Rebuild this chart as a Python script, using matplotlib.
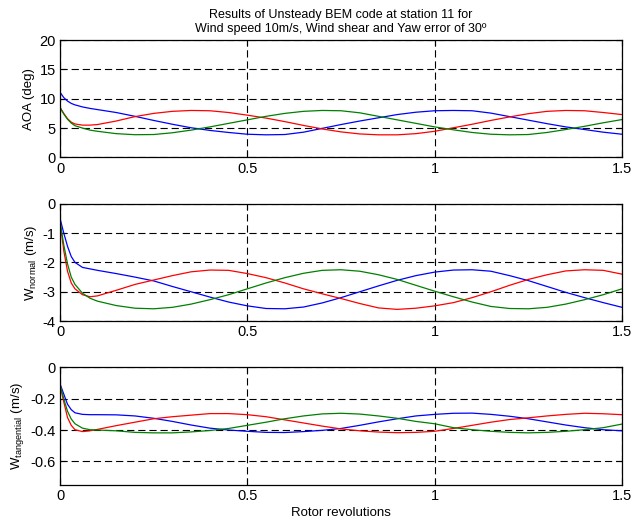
import numpy as np
import matplotlib.pyplot as plt

plt.rcParams['font.family'] = ['Liberation Sans', 'DejaVu Sans']
plt.rcParams['mathtext.default'] = 'regular'

# rotor revolutions
rev = [0, 0.01, 0.02, 0.03, 0.04, 0.06, 0.08, 0.10, 0.15, 0.20, 0.25, 0.30, 0.35,
       0.40, 0.45, 0.50, 0.55, 0.60, 0.65, 0.70, 0.75, 0.80, 0.85, 0.90, 0.95,
       1.00, 1.05, 1.10, 1.15, 1.20, 1.25, 1.30, 1.35, 1.40, 1.45, 1.50]

# angle of attack (deg), one list per blade
aoa_blue = [11.1, 10.2, 9.6, 9.2, 8.95, 8.6, 8.35, 8.15, 7.65, 7.0, 6.3, 5.65, 5.05,
            4.6, 4.25, 3.95, 3.85, 3.9, 4.3, 4.95, 5.6, 6.2, 6.75, 7.3, 7.7,
            7.95, 8.0, 7.95, 7.55, 6.95, 6.35, 5.75, 5.2, 4.75, 4.3, 3.95]
aoa_red = [8.5, 7.5, 6.6, 6.0, 5.7, 5.5, 5.5, 5.6, 6.2, 6.95, 7.5, 7.85, 8.0,
           7.95, 7.65, 7.2, 6.7, 6.1, 5.45, 4.85, 4.35, 4.0, 3.85, 3.85, 4.05,
           4.45, 5.05, 5.65, 6.3, 6.9, 7.45, 7.85, 8.0, 7.95, 7.65, 7.3]
aoa_green = [8.5, 7.4, 6.5, 5.85, 5.4, 5.0, 4.65, 4.45, 4.05, 3.87, 3.9, 4.2, 4.65,
             5.2, 5.8, 6.4, 7.0, 7.5, 7.85, 8.0, 7.95, 7.6, 7.0, 6.4, 5.8,
             5.2, 4.7, 4.25, 3.95, 3.85, 3.9, 4.25, 4.75, 5.3, 5.9, 6.45]

# normal induced velocity (m/s)
wn_blue = [-0.5, -1.0, -1.45, -1.8, -2.0, -2.17, -2.22, -2.27, -2.38, -2.5, -2.63, -2.82, -3.0,
           -3.18, -3.35, -3.48, -3.57, -3.58, -3.52, -3.38, -3.2, -3.0, -2.8, -2.61, -2.45,
           -2.33, -2.26, -2.25, -2.3, -2.45, -2.62, -2.82, -3.02, -3.2, -3.37, -3.53]
wn_red = [-0.6, -1.6, -2.3, -2.7, -2.9, -3.1, -3.17, -3.14, -2.95, -2.75, -2.6, -2.45, -2.32,
          -2.26, -2.27, -2.38, -2.52, -2.7, -2.9, -3.07, -3.23, -3.4, -3.55, -3.6, -3.56,
          -3.48, -3.37, -3.2, -3.0, -2.78, -2.58, -2.42, -2.29, -2.25, -2.27, -2.4]
wn_green = [-0.6, -1.4, -2.05, -2.5, -2.75, -3.05, -3.22, -3.32, -3.47, -3.56, -3.58, -3.53, -3.42,
            -3.27, -3.1, -2.9, -2.7, -2.52, -2.37, -2.27, -2.25, -2.3, -2.42, -2.58, -2.78,
            -2.98, -3.17, -3.35, -3.5, -3.57, -3.58, -3.53, -3.42, -3.27, -3.1, -2.9]

# tangential induced velocity (m/s)
wt_blue = [-0.105, -0.17, -0.235, -0.27, -0.29, -0.3, -0.302, -0.302, -0.303, -0.31, -0.325, -0.345, -0.368,
           -0.388, -0.4, -0.408, -0.415, -0.416, -0.41, -0.402, -0.39, -0.37, -0.348, -0.328, -0.31,
           -0.3, -0.293, -0.292, -0.3, -0.312, -0.328, -0.348, -0.368, -0.385, -0.398, -0.405]
wt_red = [-0.11, -0.22, -0.32, -0.37, -0.398, -0.41, -0.405, -0.396, -0.372, -0.35, -0.328, -0.315, -0.305,
          -0.295, -0.295, -0.302, -0.315, -0.335, -0.355, -0.375, -0.393, -0.405, -0.413, -0.417, -0.415,
          -0.408, -0.39, -0.37, -0.35, -0.333, -0.322, -0.31, -0.3, -0.293, -0.296, -0.302]
wt_green = [-0.11, -0.2, -0.28, -0.33, -0.36, -0.388, -0.398, -0.4, -0.405, -0.415, -0.418, -0.418, -0.412,
            -0.403, -0.39, -0.37, -0.35, -0.328, -0.31, -0.297, -0.293, -0.298, -0.31, -0.325, -0.345,
            -0.36, -0.385, -0.398, -0.408, -0.415, -0.418, -0.415, -0.408, -0.398, -0.385, -0.362]

x_ticks = [0, 0.5, 1, 1.5]
x_ticklabels = ['0', '0.5', '1', '1.5']

panels = [
    (aoa_blue, aoa_red, aoa_green, (0, 20), [0, 5, 10, 15, 20], 'AOA (deg)'),
    (wn_blue, wn_red, wn_green, (-4, 0), [-4, -3, -2, -1, 0], r'W$_{normal}$ (m/s)'),
    (wt_blue, wt_red, wt_green, (-0.75, 0), [-0.6, -0.4, -0.2, 0], r'W$_{tangential}$ (m/s)'),
]

fig = plt.figure(figsize=(6.33, 5.23), dpi=100)
bottoms = [0.699, 0.386, 0.073]
axes = []
for (b, r, g, ylim, yticks, ylabel), bot in zip(panels, bottoms):
    ax = fig.add_axes([0.0948, bot, 0.8878, 0.2245])
    ax.plot(rev, b, color='b', lw=0.9)
    ax.plot(rev, r, color='r', lw=0.9)
    ax.plot(rev, g, color=(0, 0.5, 0), lw=0.9)
    ax.set_xlim(0, 1.5)
    ax.set_ylim(*ylim)
    ax.set_xticks(x_ticks)
    ax.set_xticklabels(x_ticklabels)
    ax.set_yticks(yticks)
    ax.set_yticklabels(['%g' % t for t in yticks])
    ax.grid(True, color='k', linestyle=(0, (6.5, 3.5)), linewidth=0.8)
    ax.tick_params(direction='in', top=True, right=True, length=4, labelsize=10.5, pad=3)
    for s in ax.spines.values():
        s.set_linewidth(0.9)
    ax.set_ylabel(ylabel, fontsize=9.5, labelpad=3)
    axes.append(ax)

axes[0].set_title('Results of Unsteady BEM code at station 11 for\n'
                  'Wind speed 10m/s, Wind shear and Yaw error of 30º',
                  fontsize=9, pad=6)
axes[2].set_xlabel('Rotor revolutions', fontsize=9.5, labelpad=3)

plt.savefig('out.png', dpi=100)
